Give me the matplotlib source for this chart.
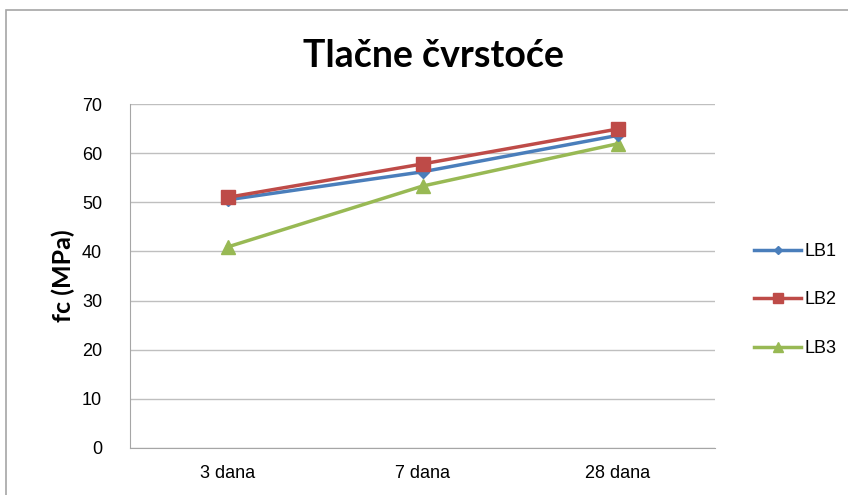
import matplotlib
matplotlib.use("Agg")
import matplotlib.pyplot as plt
from matplotlib.patches import Rectangle

categories = ["3 dana", "7 dana", "28 dana"]
lb1 = [50.5, 56.2, 63.6]
lb2 = [51.0, 57.8, 64.9]
lb3 = [40.9, 53.3, 61.9]
series_names = ["LB1", "LB2", "LB3"]
yticks = [0, 10, 20, 30, 40, 50, 60, 70]

fig = plt.figure(figsize=(8.48, 4.95), dpi=100)
fig.patches.append(Rectangle((6/848, -0.1), 1.0, 1 - 10/495 + 0.1, transform=fig.transFigure,
                             fill=False, edgecolor="#a6a6a6", linewidth=1.2))
ax = fig.add_axes([130/848, 1 - 448/495, (715 - 130)/848, (448 - 104)/495])

x = range(len(categories))
ax.plot(x, lb1, color="#4A7EBB", marker="D", markersize=6, linewidth=2.5, label=series_names[0], zorder=3)
ax.plot(x, lb2, color="#BE4B48", marker="s", markersize=10, linewidth=2.5, label=series_names[1], zorder=4)
ax.plot(x, lb3, color="#98B954", marker="^", markersize=10, linewidth=2.5, label=series_names[2], zorder=2)

ax.set_xlim(-0.5, 2.5)
ax.set_ylim(0, 70)
ax.set_yticks(yticks)
ax.set_xticks(list(x))
ax.set_xticklabels(categories)
ax.grid(axis="y", color="#bfbfbf", linewidth=1)
ax.set_axisbelow(True)
for s in ["top", "right"]:
    ax.spines[s].set_visible(False)
for s in ["left", "bottom"]:
    ax.spines[s].set_color("#a6a6a6")
ax.tick_params(length=0, labelsize=13, colors="#000000")
for lab in ax.get_xticklabels() + ax.get_yticklabels():
    lab.set_family("Liberation Sans")
ax.tick_params(axis="x", pad=12)
ax.tick_params(axis="y", pad=20)

ax.set_ylabel("fc (MPa)", fontsize=18, fontweight="bold", family="Lato", labelpad=5)
fig.text(433/848, 1 - 56/495, "Tlačne čvrstoće", ha="center", va="center",
         fontsize=27, fontweight="bold", family="Lato")

leg = fig.legend(loc="center left", bbox_to_anchor=(738/848, 1 - 300/495), frameon=False,
                 prop={"family": "Liberation Sans", "size": 13}, labelspacing=1.75,
                 handlelength=2.6, handletextpad=0.2, markerscale=0.7)

fig.savefig("out.png", dpi=100)
